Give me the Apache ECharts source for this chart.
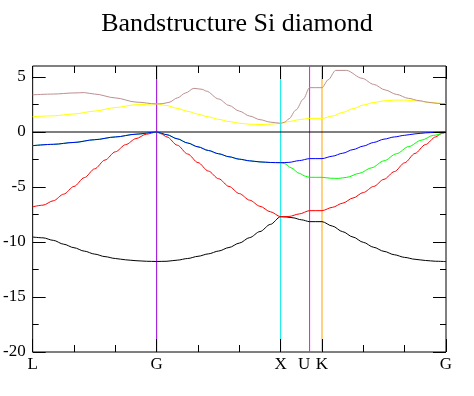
<!DOCTYPE html>
<html>
<head>
<meta charset="utf-8">
<script src="https://cdn.jsdelivr.net/npm/echarts@6/dist/echarts.min.js"></script>
<style>html,body{margin:0;padding:0;background:#fff;}#c{width:474px;height:396px;}</style>
</head>
<body>
<div id="c"></div>
<script>
const titleText = 'Bandstructure Si diamond';
const kPointPositions = [0, 3, 6, 6.7, 7, 10];
const kPointLabels = ['L', 'G', 'X', 'U', 'K', 'G'];
const xMinorTicks = [1, 2, 4, 5, 8, 9];
const yMajorTicks = [-20, -15, -10, -5, 0, 5];
const yMinorTicks = [-17.5, -12.5, -7.5, -2.5, 2.5];
const yRange = [-20, 6];

const band1 = [[0,-9.55],[0.25,-9.62],[0.5,-9.85],[0.75,-10.2],[1,-10.52],[1.25,-10.83],[1.5,-11.1],[1.75,-11.33],[2,-11.5],[2.25,-11.62],[2.5,-11.7],[2.75,-11.75],[3,-11.77],
  [3.25,-11.75],[3.5,-11.65],[3.75,-11.5],[4,-11.3],[4.25,-11.08],[4.5,-10.82],[4.75,-10.5],[5,-10.1],[5.25,-9.6],[5.5,-9.05],[5.75,-8.4],[6,-7.7],
  [6.15,-7.73],[6.3,-7.8],[6.5,-7.98],[6.7,-8.15],[7,-8.15],[7.25,-8.55],[7.5,-9.06],[7.75,-9.55],[8,-10.03],[8.25,-10.48],[8.5,-10.85],[8.75,-11.16],[9,-11.4],[9.25,-11.57],[9.5,-11.68],[9.75,-11.75],[10,-11.78]];
const band2 = [[0,-6.8],[0.25,-6.65],[0.5,-6.25],[0.75,-5.65],[1,-4.95],[1.25,-4.15],[1.5,-3.35],[1.75,-2.55],[2,-1.8],[2.25,-1.15],[2.5,-0.6],[2.75,-0.2],[3,0],
  [3.1,-0.15],[3.25,-0.45],[3.5,-1.2],[3.75,-2.0],[4,-2.78],[4.25,-3.55],[4.5,-4.25],[4.75,-4.95],[5,-5.6],[5.25,-6.2],[5.5,-6.75],[5.75,-7.25],[6,-7.7],
  [6.2,-7.68],[6.45,-7.45],[6.7,-7.15],[7,-7.15],[7.25,-6.85],[7.5,-6.47],[7.75,-6.0],[8,-5.5],[8.25,-4.95],[8.5,-4.3],[8.75,-3.6],[9,-2.8],[9.25,-1.95],[9.5,-1.15],[9.75,-0.45],[9.88,-0.15],[10,0]];
const band3 = [[0,-1.24],[0.5,-1.12],[1,-0.95],[1.5,-0.7],[2,-0.45],[2.5,-0.2],[3,0],
  [3.25,-0.25],[3.5,-0.62],[3.75,-1.0],[4,-1.35],[4.25,-1.68],[4.5,-1.98],[4.75,-2.25],[5,-2.47],[5.25,-2.62],[5.5,-2.72],[5.75,-2.77],[6,-2.79],
  [6.1,-2.88],[6.25,-3.25],[6.45,-3.76],[6.6,-4.02],[6.7,-4.12],[7,-4.12],[7.2,-4.2],[7.4,-4.22],[7.6,-4.12],[7.9,-3.76],[8.2,-3.25],[8.5,-2.62],[8.8,-1.98],[9.1,-1.32],[9.4,-0.75],[9.7,-0.3],[10,0]];
const band4 = [[0,-1.24],[0.5,-1.12],[1,-0.95],[1.5,-0.7],[2,-0.45],[2.5,-0.2],[3,0],
  [3.25,-0.25],[3.5,-0.62],[3.75,-1.0],[4,-1.35],[4.25,-1.68],[4.5,-1.98],[4.75,-2.25],[5,-2.47],[5.25,-2.62],[5.5,-2.72],[5.75,-2.77],[6,-2.79],
  [6.2,-2.76],[6.45,-2.6],[6.7,-2.42],[7,-2.42],[7.25,-2.2],[7.5,-1.93],[7.75,-1.6],[8,-1.28],[8.25,-0.95],[8.5,-0.65],[8.75,-0.45],[9,-0.3],[9.25,-0.17],[9.5,-0.08],[9.75,-0.03],[10,0]];
const band5 = [[0,1.39],[0.5,1.47],[1,1.64],[1.5,1.9],[2,2.22],[2.5,2.48],[3,2.55],
  [3.25,2.4],[3.5,2.15],[3.75,1.88],[4,1.62],[4.25,1.38],[4.5,1.15],[4.75,0.95],[5,0.8],[5.25,0.71],[5.5,0.68],[5.75,0.71],[6,0.79],
  [6.2,0.95],[6.45,1.12],[6.7,1.24],[7,1.24],[7.25,1.45],[7.5,1.78],[7.75,2.12],[8,2.45],[8.25,2.68],[8.5,2.83],[8.75,2.9],[9,2.9],[9.25,2.84],[9.5,2.74],[9.75,2.64],[10,2.55]];
const band6 = [[0,3.38],[0.5,3.45],[1,3.55],[1.25,3.58],[1.5,3.45],[2,3.1],[2.5,2.72],[3,2.55],
  [3.15,2.58],[3.3,2.7],[3.5,3.1],[3.7,3.55],[3.9,3.97],[4.1,3.88],[4.2,3.72],[4.5,3.0],[4.75,2.42],[5,1.9],[5.25,1.45],[5.5,1.12],[5.75,0.9],[6,0.79],
  [6.1,0.9],[6.2,1.2],[6.37,2.0],[6.55,3.0],[6.7,4.03],[7,4.03],[7.15,4.75],[7.33,5.6],[7.59,5.6],[7.97,4.88],[8.25,4.33],[8.53,3.82],[8.8,3.42],[9.09,3.06],[9.35,2.85],[9.57,2.7],[9.8,2.6],[10,2.55]];

const bands = [band1, band2, band3, band4, band5, band6];
const bandColors = ['#000000', '#ff0000', '#00ff00', '#0000ff', '#ffff00', '#bc8f8f'];
const kLineColors = [null, '#9400d3', '#00e8e8', '#ff00ff', '#ffa500', null];
const majorXTicks = kPointPositions.filter(p => p !== 6.7);

const FONT = 'Liberation Serif';
function xAxisDef(pos, ticks, len, withLabels) {
  return {
    type: 'value', position: pos, min: 0, max: 10, z: 5,
    axisLine: { show: false, onZero: false },
    splitLine: { show: false },
    axisTick: { show: true, inside: true, length: len, customValues: ticks, lineStyle: { color: '#000', width: 1 } },
    axisLabel: withLabels ? {
      show: true, customValues: kPointPositions, margin: 4,
      fontFamily: FONT, fontSize: 17, color: '#000',
      formatter: function (v) {
        const i = kPointPositions.indexOf(v);
        const t = i >= 0 ? kPointLabels[i] : '';
        return t === 'U' ? '{u|U}' : t;
      },
      rich: { u: { padding: [0, 11, 0, 0], fontFamily: FONT, fontSize: 17, color: '#000' } }
    } : { show: false }
  };
}
function yAxisDef(pos, ticks, len, withLabels) {
  return {
    type: 'value', position: pos, min: yRange[0], max: yRange[1], z: 5,
    axisLine: { show: false, onZero: false },
    splitLine: { show: false },
    axisTick: { show: true, inside: true, length: len, customValues: ticks, lineStyle: { color: '#000', width: 1 } },
    axisLabel: withLabels ? { show: true, customValues: yMajorTicks, margin: 7, fontFamily: FONT, fontSize: 17, color: '#000' } : { show: false }
  };
}

const series = [];
kPointPositions.forEach((p, i) => {
  if (!kLineColors[i]) return;
  series.push({
    type: 'line', data: [[p, yRange[0]], [p, yRange[1]]], xAxisIndex: 0, yAxisIndex: 0,
    showSymbol: false, symbol: 'none', silent: true, z: 1,
    lineStyle: { color: kLineColors[i], width: 1 }, itemStyle: { color: kLineColors[i] }
  });
});
series.push({
  type: 'line', data: [[0, 0], [10, 0]], xAxisIndex: 0, yAxisIndex: 0,
  showSymbol: false, symbol: 'none', silent: true, z: 1,
  lineStyle: { color: '#000', width: 1 }
});
bands.forEach((b, i) => series.push({
  type: 'line', data: b, xAxisIndex: 0, yAxisIndex: 0,
  showSymbol: false, symbol: 'none', smooth: 0.3, smoothMonotone: 'x',
  lineStyle: { color: bandColors[i], width: 1 }, itemStyle: { color: bandColors[i] }, z: 2,
  silent: true
}));

const chart = echarts.init(document.getElementById('c'), null, { renderer: 'canvas' });
chart.setOption({
  animation: false,
  backgroundColor: '#fff',
  title: { text: titleText, left: 'center', top: 6, textStyle: { fontFamily: FONT, fontSize: 26, fontWeight: 'normal', color: '#000' } },
  grid: { left: 30, right: 28, top: 66, bottom: 44, show: true, borderColor: '#000', borderWidth: 1, backgroundColor: 'transparent' },
  xAxis: [
    xAxisDef('bottom', majorXTicks, 13, true),
    xAxisDef('bottom', xMinorTicks, 7, false),
    xAxisDef('top', majorXTicks, 13, false),
    xAxisDef('top', xMinorTicks, 7, false)
  ],
  yAxis: [
    yAxisDef('left', yMajorTicks, 13, true),
    yAxisDef('left', yMinorTicks, 6, false),
    yAxisDef('right', yMajorTicks, 13, false),
    yAxisDef('right', yMinorTicks, 6, false)
  ],
  series: series
});
</script>
</body>
</html>
